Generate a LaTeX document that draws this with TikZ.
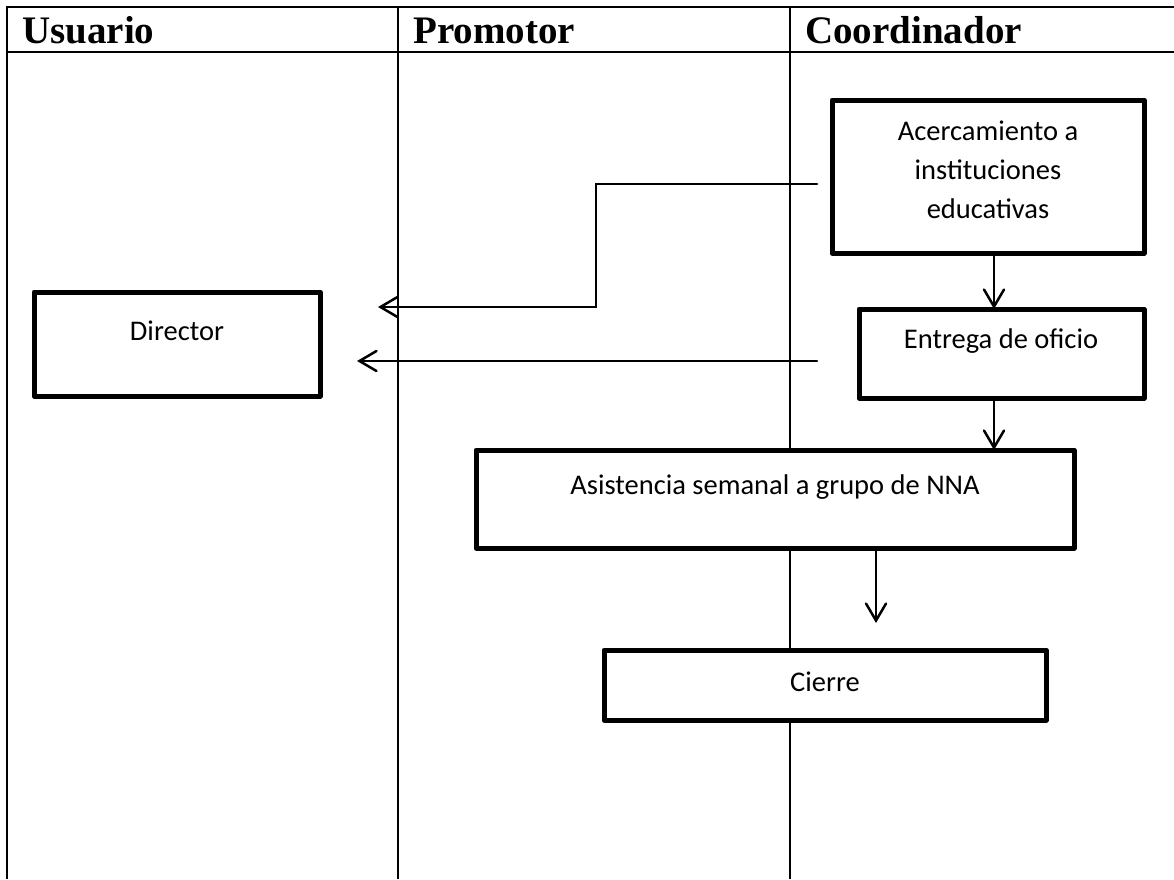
\documentclass[tikz,border=0pt]{standalone}
\usepackage{fontspec}
\setmainfont{Carlito}
\newfontfamily\headfont{Liberation Serif}
\usetikzlibrary{arrows.meta,calc}
\begin{document}
\begin{tikzpicture}[x=1pt,y=-1pt,
  grid/.style={line width=2.5pt},
  box/.style={draw, line width=5pt, fill=white, line join=round, anchor=north west, inner sep=0pt, outer sep=0pt},
  txt/.style={anchor=base, inner sep=0pt, font=\fontsize{28.5}{34}\selectfont},
  head/.style={anchor=base west, inner sep=0pt, font=\headfont\bfseries\fontsize{39}{45}\selectfont},
  arr/.style={line width=2.5pt, line cap=round, -{Straight Barb[length=17pt,width=20pt,line cap=round]}}
]
\useasboundingbox (0,0) rectangle (1174,879);
% table grid
\draw[grid] (7,879) -- (7,7) -- (1174,7);
\draw[grid] (7,52) -- (1174,52);
\draw[grid] (398,7) -- (398,879);
\draw[grid] (790,7) -- (790,879);
% headers
\node[head] (hu) at (22,43) {Usuario};
\node[head] (hp) at (413,43) {Promotor};
\node[head] (hc) at (805,43) {Coordinador};
% boxes
\node[box, minimum width=286pt, minimum height=104pt] (dir) at (34,292) {};
\node[box, minimum width=312pt, minimum height=153pt] (acer) at (832,100) {};
\node[box, minimum width=285pt, minimum height=89pt] (ent) at (859,309) {};
\node[box, minimum width=598pt, minimum height=98pt] (asis) at (476,450) {};
\node[box, minimum width=442pt, minimum height=70pt] (cier) at (604,650) {};
% texts
\node[txt] (tdir) at (177,340) {Director};
\node[txt] (tac1) at (988,140) {Acercamiento a};
\node[txt] (tac2) at (988,179) {instituciones};
\node[txt] (tac3) at (988,218) {educativas};
\node[txt] (tent) at (1001,348) {Entrega de oficio};
\node[txt] (tasi) at (775,494) {Asistencia semanal a grupo de NNA};
\node[txt] (tcie) at (825,691) {Cierre};
% connector coordinates
\coordinate (a1s) at (817,184);
\coordinate (a1k) at (596,184);
\coordinate (a1e) at (378,307);
\coordinate (a2s) at (817,361);
\coordinate (a2e) at (357,361);
\coordinate (x994) at (994,0);
\coordinate (x876) at (876,0);
\coordinate (a5e) at (876,623);
% connectors
\draw[arr] (a1s) -- (a1k) |- (a1e);
\draw[arr] (a2s) -- (a2e);
\draw[arr] (acer.south -| x994) -- (ent.north -| x994);
\draw[arr] (ent.south -| x994) -- (asis.north -| x994);
\draw[arr] (asis.south -| x876) -- (a5e);
\end{tikzpicture}
\end{document}
